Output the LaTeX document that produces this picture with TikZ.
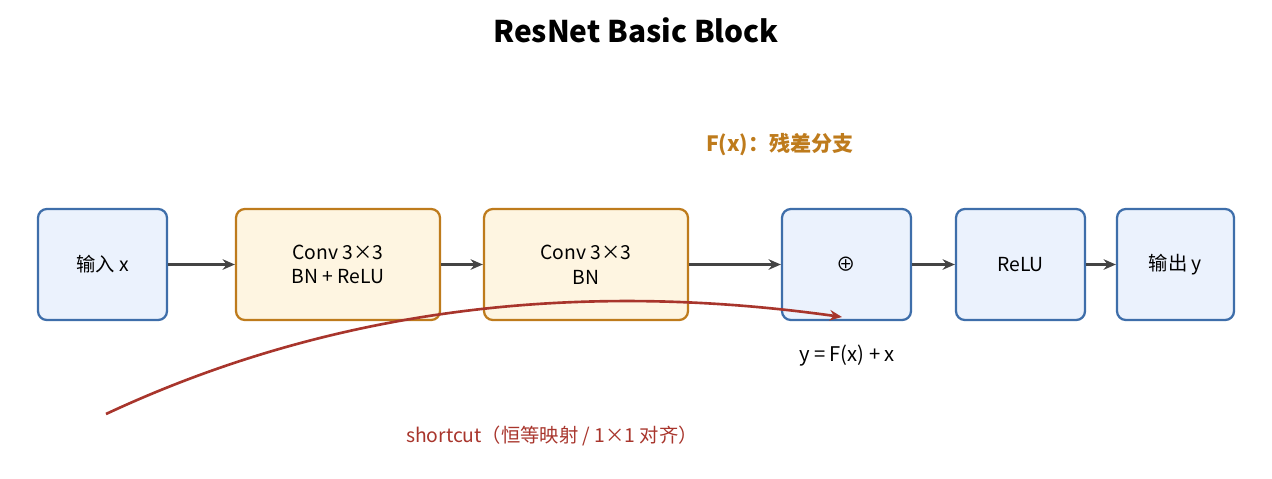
\documentclass[tikz,border=0pt]{standalone}
\usepackage{fontspec}
\setmainfont{Noto Sans CJK SC}
\usetikzlibrary{arrows.meta}
\definecolor{bb}{HTML}{3E6EAA}
\definecolor{bf}{HTML}{EBF2FD}
\definecolor{ob}{HTML}{BE7B1C}
\definecolor{of}{HTML}{FEF5E1}
\definecolor{rd}{HTML}{A8352C}
\definecolor{ar}{HTML}{444444}
\begin{document}
\begin{tikzpicture}[x=0.02cm,y=-0.02cm,
 blk/.style={draw=bb,fill=bf,line width=1.3pt,rounded corners=5pt,align=center,font=\fontsize{11}{14}\selectfont,inner sep=0pt},
 cv/.style={blk,draw=ob,fill=of},
 arr/.style={-{Stealth[length=7pt,width=6pt]},draw=ar,line width=1.5pt}]
\useasboundingbox (0,0) rectangle (1272,478);
\node[font=\fontsize{17}{19}\selectfont\bfseries] (t) at (636,30) {ResNet Basic Block};
\node[blk,minimum width=2.58cm,minimum height=2.22cm] (in) at (102.5,264.5) {输入 x};
\node[cv,minimum width=4.08cm,minimum height=2.22cm] (c1) at (338,264.5) {Conv 3×3\\BN + ReLU};
\node[cv,minimum width=4.08cm,minimum height=2.22cm] (c2) at (586,264.5) {Conv 3×3\\BN};
\node[blk,minimum width=2.58cm,minimum height=2.22cm] (add) at (846.5,264.5) {⊕};
\node[blk,minimum width=2.58cm,minimum height=2.22cm] (re) at (1020.5,264.5) {ReLU};
\node[blk,minimum width=2.34cm,minimum height=2.22cm] (out) at (1175.5,264.5) {输出 y};
\draw[arr] (in) -- (c1);
\draw[arr] (c1) -- (c2);
\draw[arr] (c2) -- (add);
\draw[arr] (add) -- (re);
\draw[arr] (re) -- (out);
\node[text=ob,font=\fontsize{12}{14}\selectfont\bfseries] (fx) at (780,145) {F(x)：残差分支};
\node[font=\fontsize{11.5}{13}\selectfont] (eq) at (847,356) {y = F(x) + x};
\coordinate (s) at (106,414);
\coordinate (e) at (842,317);
\draw[rd,line width=1.5pt,-{Stealth[length=7pt,width=6pt]}] (s) .. controls (350,300) and (600,283) .. (e);
\node[text=rd,font=\fontsize{11}{13}\selectfont] (sl) at (552,436) {shortcut（恒等映射 / 1×1 对齐）};
\end{tikzpicture}
\end{document}
